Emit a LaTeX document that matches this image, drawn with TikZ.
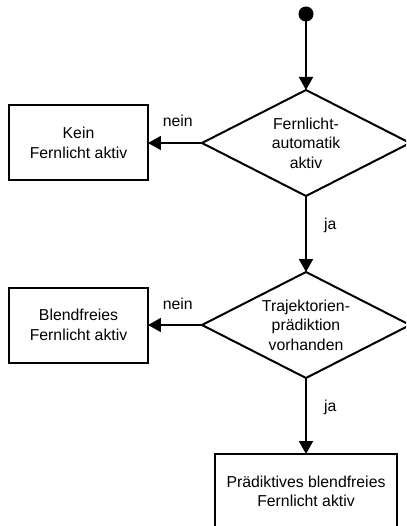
\documentclass[tikz,border=0pt]{standalone}
\usepackage{fontspec}
\setmainfont{Liberation Sans}
\usetikzlibrary{positioning}
\usetikzlibrary{shapes.geometric}
\usetikzlibrary{arrows.meta}

\begin{document}
\begin{tikzpicture}[font=\fontsize{15.8}{19.5}\selectfont, line width=2pt]
% Styles:
\tikzset{startdot/.style={circle, fill=black, inner sep=0pt, outer sep=0pt, minimum size=15pt}}
\tikzset{decision/.style={diamond, draw, aspect=2, inner sep=0pt, outer sep=0pt, minimum width=208pt, minimum height=106pt, align=center}}
\tikzset{statebox/.style={rectangle, draw, outer sep=0pt, minimum width=139pt, minimum height=75pt, align=center}}
\tikzset{flow/.style={-{Triangle[length=13pt, width=14pt]}}}
\tikzset{edgelabel/.style={inner sep=0pt}}

% Frame:
\useasboundingbox (-306pt,14pt) rectangle (100pt,-512pt);
\clip (-306pt,14pt) rectangle (100pt,-512pt);

% Main nodes:
\node[startdot] (start) {};
\node[decision] (fla)  [below = 68.5pt of start] {Fernlicht-\\automatik\\aktiv};
\node[decision] (trp)  [below = 76pt of fla] {Trajektorien-\\prädiktion\\vorhanden};
\node[statebox, minimum width=182pt] (pbf) [below = 76pt of trp] {Prädiktives blendfreies\\Fernlicht aktiv};

% Side nodes:
\node[statebox] (kein)  [left = 54pt of fla] {Kein\\Fernlicht aktiv};
\node[statebox] (blend) [left = 54pt of trp] {Blendfreies\\Fernlicht aktiv};

% Connectors:
\draw[flow] (start) -- (fla);
\draw[flow] (fla.west) -- node[edgelabel, pos=0.45, above=15pt] {nein} (kein);
\draw[flow] (fla.south) -- node[edgelabel, pos=0.39, right=17pt] {ja} (trp.north);
\draw[flow] (trp.west) -- node[edgelabel, pos=0.45, above=14pt] {nein} (blend);
\draw[flow] (trp.south) -- node[edgelabel, pos=0.39, right=17pt] {ja} (pbf.north);
\end{tikzpicture}
\end{document}
